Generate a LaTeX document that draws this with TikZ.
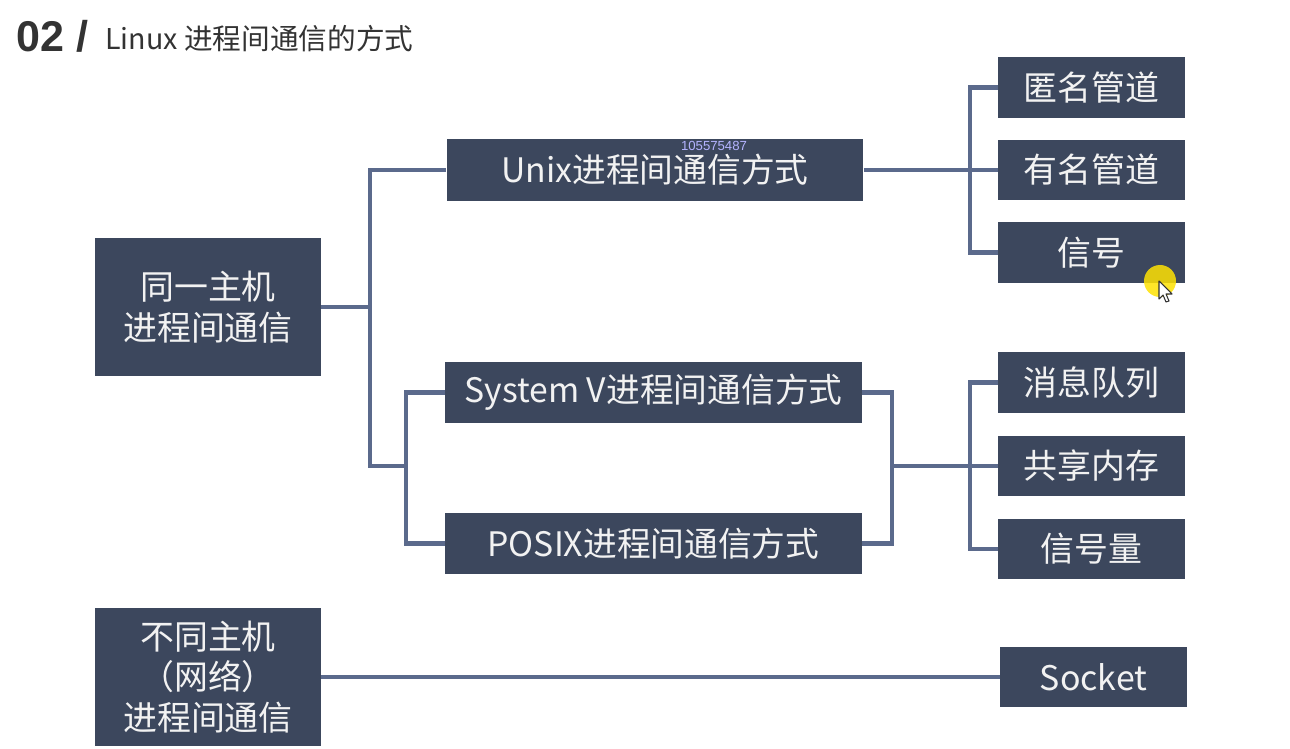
\documentclass[tikz,border=0pt]{standalone}
\usepackage{fontspec}
\newfontfamily\cjk{Noto Sans CJK SC}
\newfontfamily\latinsans{Liberation Sans}
\definecolor{boxfill}{HTML}{3C475D}
\definecolor{linecol}{HTML}{5B6A8C}
\definecolor{txtwhite}{HTML}{F2F2F2}
\definecolor{titlegray}{HTML}{333333}
\definecolor{wmark}{HTML}{B4B4FF}
\begin{document}
\begin{tikzpicture}[x=0.02cm,y=-0.02cm,
  box/.style={fill=boxfill,draw=none,text=txtwhite,inner sep=0pt,align=center},
  leftbox/.style={box,minimum width=4.52cm,minimum height=2.76cm,font=\cjk\fontsize{19.3}{23.2}\selectfont},
  midbox/.style={box,minimum width=8.34cm,minimum height=1.23cm,font=\cjk\fontsize{19.2}{23}\selectfont},
  rightbox/.style={box,minimum width=3.74cm,minimum height=1.22cm,font=\cjk\fontsize{19.3}{23}\selectfont},
  conn/.style={draw=linecol,line width=2.3pt}]
\useasboundingbox (0,0) rectangle (1290,749);
\fill[white] (0,0) rectangle (1290,749);

% title
\node[anchor=base west,inner sep=0pt,text=titlegray,font=\latinsans\bfseries\fontsize{24.5}{28}\selectfont] (t1) at (16,52) {02 /};
\node[anchor=base west,inner sep=0pt,text=titlegray,font=\cjk\fontsize{16.3}{20}\selectfont] (t2) at (105,50) {Linux 进程间通信的方式};

% nodes
\node[leftbox] (L1) at (208,307) {同一主机\\进程间通信};
\node[leftbox] (L2) at (208,677) {不同主机\\（网络）\\进程间通信};
\node[midbox] (unix) at (655,170) {\raisebox{-1pt}{Unix进程间通信方式}};
\node[midbox] (sysv) at (653.5,392.5) {System V进程间通信方式};
\node[midbox] (posix) at (653.5,543.5) {POSIX进程间通信方式};
\node[rightbox] (a1) at (1091.5,87.5) {\raisebox{-1pt}{匿名管道}};
\node[rightbox] (a2) at (1091.5,170) {\raisebox{-1pt}{有名管道}};
\node[rightbox] (a3) at (1091.5,252.5) {\raisebox{-1pt}{信号}};
\node[rightbox] (b1) at (1091.5,382.5) {\raisebox{-1pt}{消息队列}};
\node[rightbox] (b2) at (1091.5,466) {\raisebox{-1pt}{共享内存}};
\node[rightbox] (b3) at (1091.5,549) {\raisebox{-1pt}{信号量}};
\node[rightbox] (sock) at (1093.5,677) {Socket};

% watermark
\node[inner sep=0pt,text=wmark,font=\latinsans\fontsize{7.5}{8}\selectfont] (wm) at (714,146) {105575487};

% junctions
\coordinate (j1) at (370,307);
\coordinate (j3) at (406,466);
\coordinate (j4) at (970,170);
\coordinate (j5) at (892,466);
\coordinate (j6) at (970,466);

% connectors
\draw[conn] (L1.east) -- (j1);
\draw[conn] (unix.west) -| (j1) |- (j3);
\draw[conn] (sysv.west) -| (j3) |- (posix.west);
\draw[conn] (unix.east) -- (a2.west);
\draw[conn] (a1.west) -| (j4) |- (a3.west);
\draw[conn] (sysv.east) -| (j5) |- (posix.east);
\draw[conn] (j5) -- (b2.west);
\draw[conn] (b1.west) -| (j6) |- (b3.west);
\draw[conn] (L2.east) -- (sock.west);

% cursor highlight
\fill[yellow!85!orange,opacity=0.85] (1160,281) circle (16);
\draw[fill=white,draw=black!80,line width=0.6pt,line join=round]
  (1159,281) -- (1159,299) -- (1163,295) -- (1166,302) -- (1169,301) -- (1166,294) -- (1172,294) -- cycle;
\end{tikzpicture}
\end{document}
